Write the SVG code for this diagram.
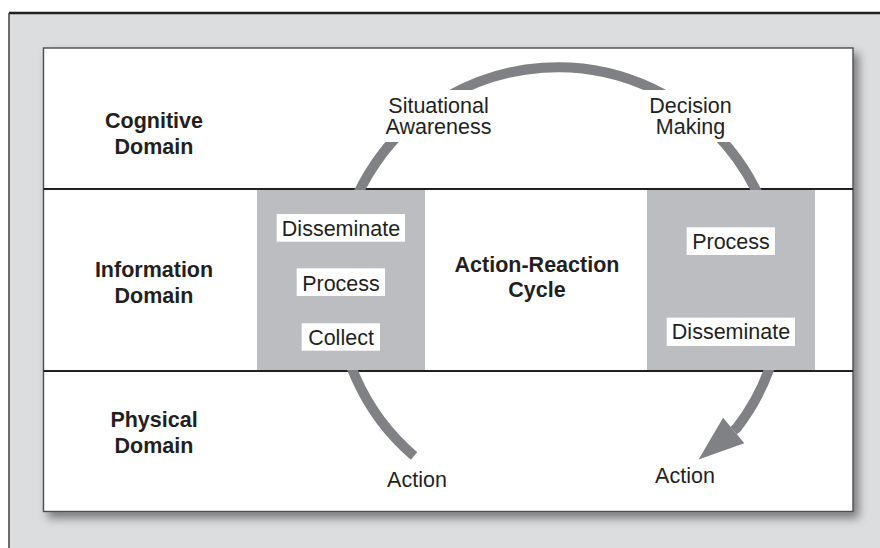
<svg xmlns="http://www.w3.org/2000/svg" width="880" height="548" viewBox="0 0 880 548">
<defs>
<style>
.t{font-family:"Liberation Sans",Arial,Helvetica,sans-serif;font-size:21.5px;fill:#231f20;text-anchor:middle}
.b{font-weight:bold}
.lbl{fill:#ffffff}
.box{fill:#bcbdc0}
.div{stroke:#231f20;stroke-width:2;fill:none}
.arc{stroke:#808184;stroke-width:10;fill:none}
</style>
<filter id="shadow" x="-5%" y="-5%" width="115%" height="115%">
<feDropShadow dx="5" dy="6" stdDeviation="5" flood-color="#000000" flood-opacity="0.45"/>
</filter>
<marker id="head" markerUnits="userSpaceOnUse" orient="140.5" refX="0" refY="0" markerWidth="50" markerHeight="40" viewBox="-2 -18 48 36" overflow="visible">
<path d="M0,-16 L43.7,0 L0,16 Z" fill="#808184"/>
</marker>
</defs>

<g id="frame">
<rect x="9" y="13" width="871" height="535" fill="#dcdddf"/>
<line x1="9" y1="13" x2="880" y2="13" stroke="#231f20" stroke-width="2.6"/>
<line x1="9" y1="13" x2="9" y2="548" stroke="#333333" stroke-width="1.4"/>
<rect x="43.5" y="48" width="809.5" height="463.5" fill="#ffffff" stroke="#4d4d4f" stroke-width="1.4" filter="url(#shadow)"/>
<line class="div" x1="43.5" y1="189" x2="853" y2="189"/>
<line class="div" x1="43.5" y1="371" x2="853" y2="371"/>
</g>

<g id="connectors">
<path class="arc" d="M414,456 A221,221 0 1 1 775.5,250 L777.9,250 A218.9,218.9 0 0 1 736.8,427.9 L733.7,430.5" marker-end="url(#head)"/>
</g>

<g id="domain-cognitive">
<text class="t b" x="154" y="127.7">Cognitive</text>
<text class="t b" x="154" y="154">Domain</text>
</g>
<g id="domain-information">
<text class="t b" x="154" y="276.7">Information</text>
<text class="t b" x="154" y="303.3">Domain</text>
</g>
<g id="domain-physical">
<text class="t b" x="154" y="426.7">Physical</text>
<text class="t b" x="154" y="452.7">Domain</text>
</g>

<g id="situational-awareness">
<rect class="lbl" x="378" y="90" width="120" height="52"/>
<text class="t" x="438.5" y="113">Situational</text>
<text class="t" x="438.5" y="134">Awareness</text>
</g>
<g id="decision-making">
<rect class="lbl" x="640" y="90" width="100" height="52"/>
<text class="t" x="690.5" y="113">Decision</text>
<text class="t" x="690.5" y="134">Making</text>
</g>

<g id="left-info-box">
<rect class="box" x="257" y="190" width="168" height="180"/>
<rect class="lbl" x="276.7" y="214" width="128.3" height="27.7"/>
<text class="t" x="341" y="235.7">Disseminate</text>
<rect class="lbl" x="296.7" y="268.3" width="88.3" height="27.7"/>
<text class="t" x="341" y="290.7">Process</text>
<rect class="lbl" x="301.7" y="323.3" width="78.3" height="27.4"/>
<text class="t" x="341" y="345">Collect</text>
</g>

<g id="right-info-box">
<rect class="box" x="647" y="190" width="168" height="180"/>
<rect class="lbl" x="686.7" y="227.3" width="88.3" height="27.7"/>
<text class="t" x="731" y="249">Process</text>
<rect class="lbl" x="666.7" y="317.7" width="128.3" height="28.3"/>
<text class="t" x="731" y="339.3">Disseminate</text>
</g>

<g id="cycle-label">
<text class="t b" x="537" y="272.3">Action-Reaction</text>
<text class="t b" x="537" y="296.7">Cycle</text>
</g>

<g id="action-left">
<text class="t" x="417" y="486.7">Action</text>
</g>
<g id="action-right">
<text class="t" x="685" y="483.3">Action</text>
</g>
</svg>
